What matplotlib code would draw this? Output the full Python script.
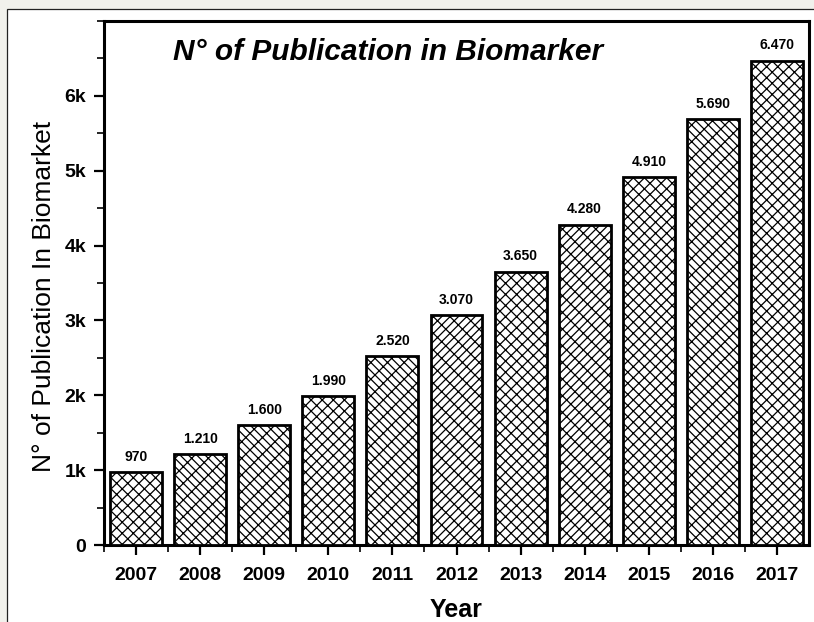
import matplotlib
matplotlib.use("Agg")
import matplotlib.pyplot as plt
from matplotlib.patches import Rectangle
from matplotlib.ticker import MultipleLocator, FixedLocator

years = [2007, 2008, 2009, 2010, 2011, 2012, 2013, 2014, 2015, 2016, 2017]
counts = [970, 1210, 1600, 1990, 2520, 3070, 3650, 4280, 4910, 5690, 6470]
value_labels = ["970", "1.210", "1.600", "1.990", "2.520", "3.070",
                "3.650", "4.280", "4.910", "5.690", "6.470"]
ytick_labels = ["0", "1k", "2k", "3k", "4k", "5k", "6k"]
title = "N° of Publication in Biomarker"
ylabel = "N° of Publication In Biomarket"
xlabel = "Year"

BOLDF = ["Liberation Sans", "DejaVu Sans"]
REG = ["Liberation Sans", "DejaVu Sans"]

plt.rcParams['hatch.linewidth'] = 0.9
plt.rcParams['hatch.color'] = 'black'

fig = plt.figure(figsize=(8.14, 6.22), dpi=100)
fig.patch.set_facecolor('#f1f1ec')
# white panel with thin border
panel = Rectangle((7/814, -0.05), 1.1, 1 - 9/622 + 0.05,
                  transform=fig.transFigure, facecolor='white',
                  edgecolor='#222222', linewidth=0.9, zorder=-10)
fig.patches.append(panel)

ax = fig.add_axes([104/814, 1 - 545/622, 705/814, 524/622])
ax.set_zorder(5)
ax.set_facecolor('white')

hatches = ['xxx', 'xx\\\\', '\\\\xx', 'xxx', 'xx\\\\', 'xx//', 'xxx', 'xx//', 'xxx', 'xx\\\\', 'xxx']
bars = ax.bar(years, counts, width=0.81, color='white', edgecolor='black',
              linewidth=2.0, zorder=3)
for b, h in zip(bars, hatches):
    b.set_hatch(h)

for x, y, lab in zip(years, counts, value_labels):
    ax.annotate(lab, (x, y), xytext=(0, 6), textcoords='offset points',
                ha='center', va='bottom', fontsize=10, fontweight='bold',
                family=BOLDF)

ax.set_xlim(2006.5, 2017.5)
ax.set_ylim(0, 7000)

ax.set_xticks(years)
ax.set_xticklabels([str(y) for y in years])
ax.xaxis.set_minor_locator(FixedLocator([y + 0.5 for y in years[:-1]] + [2006.5]))
ax.set_yticks(range(0, 7000, 1000))
ax.set_yticklabels(ytick_labels)
ax.yaxis.set_minor_locator(MultipleLocator(500))

ax.tick_params(axis='both', which='major', direction='out', length=7, width=1.6,
               labelsize=14)
ax.tick_params(axis='x', which='major', pad=9)
ax.tick_params(axis='y', which='major', pad=6)
ax.tick_params(axis='both', which='minor', direction='out', length=5, width=1.2)
for lab in ax.get_xticklabels() + ax.get_yticklabels():
    lab.set_fontweight('bold')
    lab.set_family(BOLDF)

for s in ax.spines.values():
    s.set_linewidth(2.2)

ax.text(0.403, 0.94, title, transform=ax.transAxes, ha='center', va='center',
        fontsize=21.5, fontweight='bold', fontstyle='italic', family=BOLDF)

ax.set_ylabel(ylabel, fontsize=19, family=REG, labelpad=6)
ax.yaxis.label.set_y(0.475)
ax.set_xlabel(xlabel, fontsize=18, fontweight='bold', family=BOLDF, labelpad=10)

fig.savefig("out.png", dpi=100, facecolor=fig.get_facecolor())
